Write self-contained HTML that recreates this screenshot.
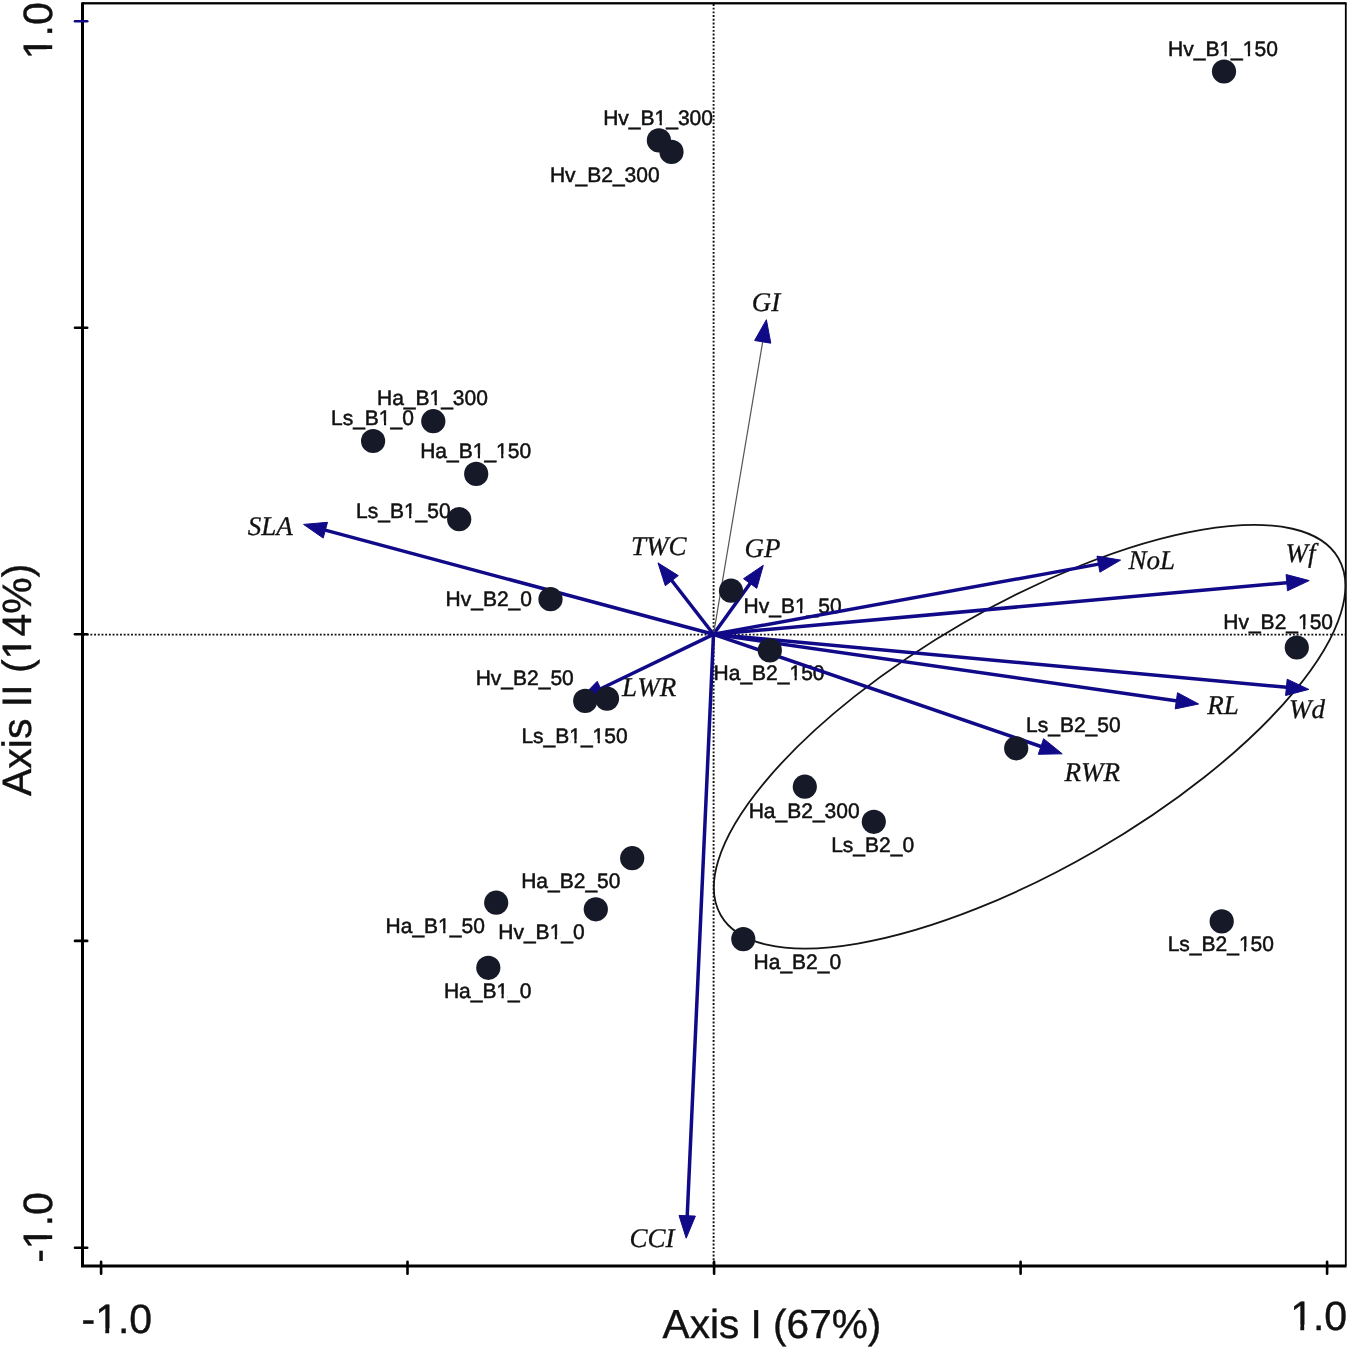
<!DOCTYPE html><html><head><meta charset="utf-8"><style>html,body{margin:0;padding:0;background:#fff;width:1350px;height:1349px;overflow:hidden}svg{display:block;will-change:transform}text{fill:#111;stroke:#111;font-kerning:none;text-rendering:geometricPrecision}</style></head><body>
<svg width="1350" height="1349" viewBox="0 0 1350 1349">
<rect width="1350" height="1349" fill="#fff"/>
<line x1="713.6" y1="4" x2="713.6" y2="1265" stroke="#111" stroke-width="1.9" stroke-dasharray="1.9 1.8"/>
<line x1="83" y1="634.6" x2="1345" y2="634.6" stroke="#111" stroke-width="1.9" stroke-dasharray="1.9 1.8"/>
<path d="M82.5 1266 L82.5 3.3 L1345.8 3.3 L1345.8 1266" fill="none" stroke="#000" stroke-width="1.8" stroke-linejoin="round"/>
<line x1="82.5" y1="2.5" x2="82.5" y2="1266" stroke="#000" stroke-width="3"/>
<line x1="82" y1="3.2" x2="1346.5" y2="3.2" stroke="#000" stroke-width="2"/>
<line x1="81" y1="1266" x2="1346.5" y2="1266" stroke="#000" stroke-width="3"/>
<line x1="75" y1="21.2" x2="87.2" y2="21.2" stroke="#110a88" stroke-width="2.6" stroke-linecap="round"/>
<line x1="75" y1="327.7" x2="87.2" y2="327.7" stroke="#000" stroke-width="2.6" stroke-linecap="round"/>
<line x1="75" y1="634.3" x2="87.2" y2="634.3" stroke="#000" stroke-width="2.6" stroke-linecap="round"/>
<line x1="75" y1="940.9" x2="87.2" y2="940.9" stroke="#000" stroke-width="2.6" stroke-linecap="round"/>
<line x1="75" y1="1247.7" x2="87.2" y2="1247.7" stroke="#000" stroke-width="2.6" stroke-linecap="round"/>
<line x1="101.1" y1="1261.8" x2="101.1" y2="1273.8" stroke="#000" stroke-width="2.6" stroke-linecap="round"/>
<line x1="407.5" y1="1261.8" x2="407.5" y2="1273.8" stroke="#000" stroke-width="2.6" stroke-linecap="round"/>
<line x1="714.1" y1="1261.8" x2="714.1" y2="1273.8" stroke="#000" stroke-width="2.6" stroke-linecap="round"/>
<line x1="1020.6" y1="1261.8" x2="1020.6" y2="1273.8" stroke="#000" stroke-width="2.6" stroke-linecap="round"/>
<line x1="1327.1" y1="1261.8" x2="1327.1" y2="1273.8" stroke="#000" stroke-width="2.6" stroke-linecap="round"/>
<ellipse cx="1029.6" cy="736.7" rx="356.7" ry="131.7" transform="rotate(-30.03 1029.6 736.7)" fill="none" stroke="#151515" stroke-width="1.8"/>
<g transform="translate(1168.08 56.10)"><text x="0" y="0" clip-path="url(#c0)" style="font-family:&quot;Liberation Sans&quot;,sans-serif;font-size:21px;stroke-width:0.50px">Hv_B1_150</text></g>
<g transform="translate(603.18 124.80)"><text x="0" y="0" clip-path="url(#c1)" style="font-family:&quot;Liberation Sans&quot;,sans-serif;font-size:21px;stroke-width:0.50px">Hv_B1_300</text></g>
<g transform="translate(549.88 181.90)"><text x="0" y="0" style="font-family:&quot;Liberation Sans&quot;,sans-serif;font-size:21px;stroke-width:0.50px">Hv_B2_300</text></g>
<g transform="translate(376.98 405.30)"><text x="0" y="0" clip-path="url(#c2)" style="font-family:&quot;Liberation Sans&quot;,sans-serif;font-size:21px;stroke-width:0.50px">Ha_B1_300</text></g>
<g transform="translate(330.98 425.30)"><text x="0" y="0" clip-path="url(#c3)" style="font-family:&quot;Liberation Sans&quot;,sans-serif;font-size:21px;stroke-width:0.50px">Ls_B1_0</text></g>
<g transform="translate(420.18 457.90)"><text x="0" y="0" clip-path="url(#c4)" style="font-family:&quot;Liberation Sans&quot;,sans-serif;font-size:21px;stroke-width:0.50px">Ha_B1_150</text></g>
<g transform="translate(356.08 517.70)"><text x="0" y="0" clip-path="url(#c5)" style="font-family:&quot;Liberation Sans&quot;,sans-serif;font-size:21px;stroke-width:0.50px">Ls_B1_50</text></g>
<g transform="translate(445.58 606.30)"><text x="0" y="0" style="font-family:&quot;Liberation Sans&quot;,sans-serif;font-size:21px;stroke-width:0.50px">Hv_B2_0</text></g>
<g transform="translate(743.58 613.30)"><text x="0" y="0" clip-path="url(#c6)" style="font-family:&quot;Liberation Sans&quot;,sans-serif;font-size:21px;stroke-width:0.50px">Hv_B1_50</text></g>
<g transform="translate(475.68 685.20)"><text x="0" y="0" style="font-family:&quot;Liberation Sans&quot;,sans-serif;font-size:21px;stroke-width:0.50px">Hv_B2_50</text></g>
<g transform="translate(521.38 742.80)"><text x="0" y="0" clip-path="url(#c7)" style="font-family:&quot;Liberation Sans&quot;,sans-serif;font-size:21px;stroke-width:0.50px">Ls_B1_150</text></g>
<g transform="translate(713.58 679.70)"><text x="0" y="0" clip-path="url(#c8)" style="font-family:&quot;Liberation Sans&quot;,sans-serif;font-size:21px;stroke-width:0.50px">Ha_B2_150</text></g>
<g transform="translate(1223.28 629.20)"><text x="0" y="0" clip-path="url(#c9)" style="font-family:&quot;Liberation Sans&quot;,sans-serif;font-size:21px;stroke-width:0.50px">Hv_B2_150</text></g>
<g transform="translate(1026.08 732.40)"><text x="0" y="0" style="font-family:&quot;Liberation Sans&quot;,sans-serif;font-size:21px;stroke-width:0.50px">Ls_B2_50</text></g>
<g transform="translate(748.68 817.70)"><text x="0" y="0" style="font-family:&quot;Liberation Sans&quot;,sans-serif;font-size:21px;stroke-width:0.50px">Ha_B2_300</text></g>
<g transform="translate(831.18 851.80)"><text x="0" y="0" style="font-family:&quot;Liberation Sans&quot;,sans-serif;font-size:21px;stroke-width:0.50px">Ls_B2_0</text></g>
<g transform="translate(521.18 888.20)"><text x="0" y="0" style="font-family:&quot;Liberation Sans&quot;,sans-serif;font-size:21px;stroke-width:0.50px">Ha_B2_50</text></g>
<g transform="translate(385.58 933.30)"><text x="0" y="0" clip-path="url(#c10)" style="font-family:&quot;Liberation Sans&quot;,sans-serif;font-size:21px;stroke-width:0.50px">Ha_B1_50</text></g>
<g transform="translate(498.28 939.30)"><text x="0" y="0" clip-path="url(#c11)" style="font-family:&quot;Liberation Sans&quot;,sans-serif;font-size:21px;stroke-width:0.50px">Hv_B1_0</text></g>
<g transform="translate(443.88 997.80)"><text x="0" y="0" clip-path="url(#c12)" style="font-family:&quot;Liberation Sans&quot;,sans-serif;font-size:21px;stroke-width:0.50px">Ha_B1_0</text></g>
<g transform="translate(753.58 969.40)"><text x="0" y="0" style="font-family:&quot;Liberation Sans&quot;,sans-serif;font-size:21px;stroke-width:0.50px">Ha_B2_0</text></g>
<g transform="translate(1167.68 950.90)"><text x="0" y="0" clip-path="url(#c13)" style="font-family:&quot;Liberation Sans&quot;,sans-serif;font-size:21px;stroke-width:0.50px">Ls_B2_150</text></g>
<line x1="713.5" y1="634.3" x2="322.4" y2="529.4" stroke="#110a88" stroke-width="3.5"/>
<polygon points="303.6,524.4 327.5,522.3 323.2,538.1" fill="#110a88" stroke="#110a88" stroke-width="1" stroke-linejoin="round"/>
<line x1="713.5" y1="634.3" x2="670.0" y2="578.3" stroke="#110a88" stroke-width="3.5"/>
<polygon points="658.0,562.9 678.3,575.6 665.3,585.7" fill="#110a88" stroke="#110a88" stroke-width="1" stroke-linejoin="round"/>
<line x1="713.5" y1="634.3" x2="751.9" y2="581.1" stroke="#110a88" stroke-width="3.5"/>
<polygon points="763.3,565.3 756.8,588.3 743.5,578.7" fill="#110a88" stroke="#110a88" stroke-width="1" stroke-linejoin="round"/>
<line x1="713.5" y1="634.3" x2="763.0" y2="339.9" stroke="#555" stroke-width="1.2"/>
<polygon points="766.4,319.7 770.8,343.2 754.6,340.5" fill="#110a88" stroke="#110a88" stroke-width="1" stroke-linejoin="round"/>
<line x1="713.5" y1="634.3" x2="1101.4" y2="563.6" stroke="#110a88" stroke-width="3.5"/>
<polygon points="1120.6,560.1 1099.9,572.2 1097.0,556.1" fill="#110a88" stroke="#110a88" stroke-width="1" stroke-linejoin="round"/>
<line x1="713.5" y1="634.3" x2="1289.8" y2="582.4" stroke="#110a88" stroke-width="3.5"/>
<polygon points="1309.2,580.6 1287.5,590.8 1286.1,574.5" fill="#110a88" stroke="#110a88" stroke-width="1" stroke-linejoin="round"/>
<line x1="713.5" y1="634.3" x2="1289.4" y2="687.6" stroke="#110a88" stroke-width="3.5"/>
<polygon points="1308.8,689.4 1285.6,695.5 1287.2,679.2" fill="#110a88" stroke="#110a88" stroke-width="1" stroke-linejoin="round"/>
<line x1="713.5" y1="634.3" x2="1179.3" y2="701.2" stroke="#110a88" stroke-width="3.5"/>
<polygon points="1198.6,704.0 1175.2,708.9 1177.5,692.7" fill="#110a88" stroke="#110a88" stroke-width="1" stroke-linejoin="round"/>
<line x1="713.5" y1="634.3" x2="1043.8" y2="747.5" stroke="#110a88" stroke-width="3.5"/>
<polygon points="1062.2,753.8 1038.3,754.3 1043.6,738.7" fill="#110a88" stroke="#110a88" stroke-width="1" stroke-linejoin="round"/>
<line x1="713.5" y1="634.3" x2="598.1" y2="690.0" stroke="#110a88" stroke-width="3.5"/>
<polygon points="580.5,698.5 597.2,681.3 604.3,696.1" fill="#110a88" stroke="#110a88" stroke-width="1" stroke-linejoin="round"/>
<line x1="713.5" y1="634.3" x2="687.1" y2="1218.7" stroke="#110a88" stroke-width="3.5"/>
<polygon points="686.2,1238.2 679.0,1215.4 695.4,1216.1" fill="#110a88" stroke="#110a88" stroke-width="1" stroke-linejoin="round"/>
<g transform="translate(247.68 534.70)"><text x="0" y="0" style="font-family:&quot;Liberation Serif&quot;,serif;font-style:italic;font-size:27px;stroke-width:0.30px">SLA</text></g>
<g transform="translate(630.93 554.90)"><text x="0" y="0" style="font-family:&quot;Liberation Serif&quot;,serif;font-style:italic;font-size:27px;stroke-width:0.30px">TWC</text></g>
<g transform="translate(744.51 556.70)"><text x="0" y="0" style="font-family:&quot;Liberation Serif&quot;,serif;font-style:italic;font-size:27px;stroke-width:0.30px">GP</text></g>
<g transform="translate(751.81 311.30)"><text x="0" y="0" style="font-family:&quot;Liberation Serif&quot;,serif;font-style:italic;font-size:27px;stroke-width:0.30px">GI</text></g>
<g transform="translate(1128.50 569.30)"><text x="0" y="0" style="font-family:&quot;Liberation Serif&quot;,serif;font-style:italic;font-size:27px;stroke-width:0.30px">NoL</text></g>
<g transform="translate(1285.52 562.20)"><text x="0" y="0" style="font-family:&quot;Liberation Serif&quot;,serif;font-style:italic;font-size:27px;stroke-width:0.30px">Wf</text></g>
<g transform="translate(1289.12 717.80)"><text x="0" y="0" style="font-family:&quot;Liberation Serif&quot;,serif;font-style:italic;font-size:27px;stroke-width:0.30px">Wd</text></g>
<g transform="translate(1207.35 713.70)"><text x="0" y="0" style="font-family:&quot;Liberation Serif&quot;,serif;font-style:italic;font-size:27px;stroke-width:0.30px">RL</text></g>
<g transform="translate(1064.55 781.20)"><text x="0" y="0" style="font-family:&quot;Liberation Serif&quot;,serif;font-style:italic;font-size:27px;stroke-width:0.30px">RWR</text></g>
<g transform="translate(622.12 695.90)"><text x="0" y="0" style="font-family:&quot;Liberation Serif&quot;,serif;font-style:italic;font-size:27px;stroke-width:0.30px">LWR</text></g>
<g transform="translate(629.60 1247.10)"><text x="0" y="0" style="font-family:&quot;Liberation Serif&quot;,serif;font-style:italic;font-size:27px;stroke-width:0.30px">CCI</text></g>
<circle cx="1224.0" cy="71.5" r="12.1" fill="#161927"/>
<circle cx="658.9" cy="140.4" r="12.1" fill="#161927"/>
<circle cx="671.5" cy="151.9" r="12.1" fill="#161927"/>
<circle cx="433.3" cy="421.2" r="12.1" fill="#161927"/>
<circle cx="373.1" cy="441.0" r="12.1" fill="#161927"/>
<circle cx="476.2" cy="473.9" r="12.1" fill="#161927"/>
<circle cx="459.2" cy="519.2" r="12.1" fill="#161927"/>
<circle cx="550.5" cy="599.2" r="12.1" fill="#161927"/>
<circle cx="731.0" cy="590.7" r="12.1" fill="#161927"/>
<circle cx="585.2" cy="700.9" r="12.1" fill="#161927"/>
<circle cx="607.0" cy="698.6" r="12.1" fill="#161927"/>
<circle cx="769.8" cy="650.4" r="12.1" fill="#161927"/>
<circle cx="1296.8" cy="647.5" r="12.1" fill="#161927"/>
<circle cx="1016.2" cy="748.3" r="12.1" fill="#161927"/>
<circle cx="804.8" cy="786.7" r="12.1" fill="#161927"/>
<circle cx="873.8" cy="821.8" r="12.1" fill="#161927"/>
<circle cx="632.2" cy="858.2" r="12.1" fill="#161927"/>
<circle cx="496.2" cy="902.7" r="12.1" fill="#161927"/>
<circle cx="595.8" cy="909.3" r="12.1" fill="#161927"/>
<circle cx="488.3" cy="967.8" r="12.1" fill="#161927"/>
<circle cx="743.3" cy="939.1" r="12.1" fill="#161927"/>
<circle cx="1221.7" cy="921.4" r="12.1" fill="#161927"/>
<g transform="translate(662.62 1337.80)"><text x="0" y="0" style="font-family:&quot;Liberation Sans&quot;,sans-serif;font-size:40.6px;stroke-width:0.40px">Axis I (67%)</text></g>
<g transform="translate(81.48 1333.40)"><text x="0" y="0" clip-path="url(#c14)" style="font-family:&quot;Liberation Sans&quot;,sans-serif;font-size:41px;stroke-width:0.40px">-1.0</text></g>
<g transform="translate(1290.16 1330.00)"><text x="0" y="0" clip-path="url(#c15)" style="font-family:&quot;Liberation Sans&quot;,sans-serif;font-size:41px;stroke-width:0.40px">1.0</text></g>
<g transform="translate(51.90 59.24) rotate(-90)"><text x="0" y="0" clip-path="url(#c16)" style="font-family:&quot;Liberation Sans&quot;,sans-serif;font-size:41px;stroke-width:0.40px">1.0</text></g>
<g transform="translate(52.00 1262.82) rotate(-90)"><text x="0" y="0" clip-path="url(#c17)" style="font-family:&quot;Liberation Sans&quot;,sans-serif;font-size:41px;stroke-width:0.40px">-1.0</text></g>
<g transform="translate(31.00 796.08) rotate(-90)"><text x="0" y="0" clip-path="url(#c18)" style="font-family:&quot;Liberation Sans&quot;,sans-serif;font-size:41px;stroke-width:0.40px">Axis II (14%)</text></g>
<defs><clipPath id="c0"><path d="M-50 -100H159.75V100H-50ZM52.38 -3.82H56.48V1.50H52.38ZM58.64 -3.82H62.63V1.50H58.64ZM75.74 -3.82H79.84V1.50H75.74ZM82.00 -3.82H85.99V1.50H82.00Z" clip-rule="evenodd"/></clipPath><clipPath id="c1"><path d="M-50 -100H159.75V100H-50ZM52.38 -3.82H56.48V1.50H52.38ZM58.64 -3.82H62.63V1.50H58.64Z" clip-rule="evenodd"/></clipPath><clipPath id="c2"><path d="M-50 -100H160.93V100H-50ZM53.56 -3.82H57.66V1.50H53.56ZM59.82 -3.82H63.81V1.50H59.82Z" clip-rule="evenodd"/></clipPath><clipPath id="c3"><path d="M-50 -100H132.90V100H-50ZM48.89 -3.82H53.00V1.50H48.89ZM55.15 -3.82H59.14V1.50H55.15Z" clip-rule="evenodd"/></clipPath><clipPath id="c4"><path d="M-50 -100H160.93V100H-50ZM53.56 -3.82H57.66V1.50H53.56ZM59.82 -3.82H63.81V1.50H59.82ZM76.91 -3.82H81.02V1.50H76.91ZM83.18 -3.82H87.17V1.50H83.18Z" clip-rule="evenodd"/></clipPath><clipPath id="c5"><path d="M-50 -100H144.58V100H-50ZM48.89 -3.82H53.00V1.50H48.89ZM55.15 -3.82H59.14V1.50H55.15Z" clip-rule="evenodd"/></clipPath><clipPath id="c6"><path d="M-50 -100H148.07V100H-50ZM52.38 -3.82H56.48V1.50H52.38ZM58.64 -3.82H62.63V1.50H58.64Z" clip-rule="evenodd"/></clipPath><clipPath id="c7"><path d="M-50 -100H156.26V100H-50ZM48.89 -3.82H53.00V1.50H48.89ZM55.15 -3.82H59.14V1.50H55.15ZM72.25 -3.82H76.35V1.50H72.25ZM78.51 -3.82H82.50V1.50H78.51Z" clip-rule="evenodd"/></clipPath><clipPath id="c8"><path d="M-50 -100H160.93V100H-50ZM76.91 -3.82H81.02V1.50H76.91ZM83.18 -3.82H87.17V1.50H83.18Z" clip-rule="evenodd"/></clipPath><clipPath id="c9"><path d="M-50 -100H159.75V100H-50ZM75.74 -3.82H79.84V1.50H75.74ZM82.00 -3.82H85.99V1.50H82.00Z" clip-rule="evenodd"/></clipPath><clipPath id="c10"><path d="M-50 -100H149.25V100H-50ZM53.56 -3.82H57.66V1.50H53.56ZM59.82 -3.82H63.81V1.50H59.82Z" clip-rule="evenodd"/></clipPath><clipPath id="c11"><path d="M-50 -100H136.39V100H-50ZM52.38 -3.82H56.48V1.50H52.38ZM58.64 -3.82H62.63V1.50H58.64Z" clip-rule="evenodd"/></clipPath><clipPath id="c12"><path d="M-50 -100H137.57V100H-50ZM53.56 -3.82H57.66V1.50H53.56ZM59.82 -3.82H63.81V1.50H59.82Z" clip-rule="evenodd"/></clipPath><clipPath id="c13"><path d="M-50 -100H156.26V100H-50ZM72.25 -3.82H76.35V1.50H72.25ZM78.51 -3.82H82.50V1.50H78.51Z" clip-rule="evenodd"/></clipPath><clipPath id="c14"><path d="M-50 -100H120.65V100H-50ZM15.66 -5.26H23.86V1.50H15.66ZM27.69 -5.26H35.67V1.50H27.69Z" clip-rule="evenodd"/></clipPath><clipPath id="c15"><path d="M-50 -100H107.00V100H-50ZM2.00 -5.26H10.21V1.50H2.00ZM14.03 -5.26H22.02V1.50H14.03Z" clip-rule="evenodd"/></clipPath><clipPath id="c16"><path d="M-50 -100H107.00V100H-50ZM2.00 -5.26H10.21V1.50H2.00ZM14.03 -5.26H22.02V1.50H14.03Z" clip-rule="evenodd"/></clipPath><clipPath id="c17"><path d="M-50 -100H120.65V100H-50ZM15.66 -5.26H23.86V1.50H15.66ZM27.69 -5.26H35.67V1.50H27.69Z" clip-rule="evenodd"/></clipPath><clipPath id="c18"><path d="M-50 -100H282.39V100H-50ZM138.68 -5.26H146.88V1.50H138.68ZM150.71 -5.26H158.69V1.50H150.71Z" clip-rule="evenodd"/></clipPath></defs>
</svg></body></html>
